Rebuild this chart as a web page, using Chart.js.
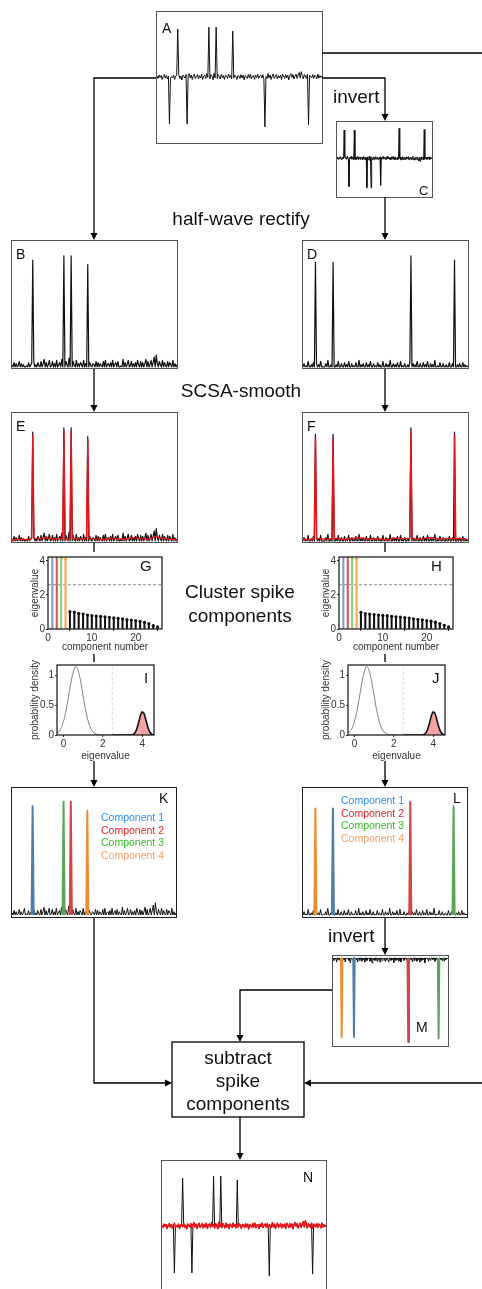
<!DOCTYPE html>
<html><head><meta charset="utf-8"><title>spike removal workflow</title>
<script src="https://cdn.jsdelivr.net/npm/chart.js@4.4.1/dist/chart.umd.min.js"></script>
<style>
html,body{margin:0;padding:0;background:#fff}
body{position:relative;width:482px;height:1289px;overflow:hidden;font-family:"Liberation Sans",Arial,Helvetica,sans-serif}
.box{position:absolute;box-sizing:border-box;border:1px solid #555;background:#fff}
.box canvas{position:absolute;left:0;top:0}
.ax{position:absolute}
#over{position:absolute;left:0;top:0;pointer-events:none}
</style></head><body>
<script>
const FONT='"Liberation Sans", Arial, Helvetica, sans-serif';
Chart.defaults.font.family=FONT;

// ── Recorded trace (A): background noise + spikes ──
const noise=[
 0.02,-0.03,0.04,-0.01,0.03,-0.05,0.01,0.05,-0.02,0.03,-0.04,0.02,0.06,-0.03,0.01,-0.02,0.04,-0.05,0.02,0.03,
 -0.01,0.05,-0.03,0.02,-0.06,0.04,0.01,-0.02,0.05,-0.04,0.03,0.07,-0.02,0.04,-0.05,0.02,0.06,-0.03,0.01,0.05,
 -0.04,0.03,-0.02,0.06,-0.05,0.02,0.04,-0.03,0.07,-0.01,0.03,-0.04,0.05,0.02,-0.06,0.08,-0.02,0.04,-0.03,0.05,
 0.01,-0.04,0.06,-0.02,0.03,-0.05,0.04,0.02,-0.03,0.06,-0.01,0.03,-0.04,0.05,-0.02,0.04,0.01,-0.05,0.03,0.02,
 -0.03,0.05,-0.02,0.04,-0.06,0.03,0.01,-0.03,0.05,-0.02,0.06,-0.04,0.02,0.03,-0.05,0.04,-0.01,0.06,-0.03,0.02,
 0.04,-0.02,0.05,-0.04,0.03,0.01,-0.03,0.07,-0.02,0.04,-0.05,0.02,0.06,-0.03,0.01,0.05,-0.04,0.03,-0.02,0.04,
 -0.05,0.06,0.02,-0.03,0.05,-0.02,0.04,-0.06,0.03,0.07,-0.01,0.05,-0.04,0.02,0.06,-0.03,0.04,0.09,-0.02,0.11,
 0.03,-0.04,0.05,0.02,-0.03,0.06,-0.05,0.04,0.01,-0.02,0.05,-0.03,0.04,0.02,-0.04,0.06,-0.02,0.03,-0.01,0.02];
const upIdx=[20,50,57,73], upAmp=[0.98,1.02,1.02,0.94];
const downIdx=[12,29,104,146], downAmp=[-0.96,-0.96,-1.02,-0.98];

// ── Spike components ──
const compNames=['Component 1','Component 2','Component 3','Component 4'];
const compText=['#2b8ef0','#ec2227','#35bb25','#f7a064'];
const compLine=['#4f7ea6','#d64343','#5ba55b','#ee8d2d'];
const compEig=['#7b9cc6','#d95450','#8fcf80','#f6a64c'];
const upComp=[0,2,1,3];     // component of each spike in K
const downComp=[3,0,1,2];   // component of each spike in L

// ── SCSA-smoothed baseline (red) ──
const smoothX=[0,8,16,26,34,40,46,54,62,68,80,88,96,108,116,124,132,138,146,154,159];
const smoothE=[0.01,0.015,0.01,0.02,0.03,0.015,0.02,0.01,0.02,0.015,0.02,0.01,0.025,0.015,0.03,0.02,0.015,0.04,0.02,0.015,0.01];
const smoothF=[0.015,0.01,0.02,0.015,0.025,0.01,0.02,0.03,0.015,0.02,0.01,0.025,0.02,0.015,0.02,0.03,0.015,0.02,0.01,0.02,0.01];
const smoothGain=0.97;

// ── Eigenvalues (G, H) ──
const eigG=[4.4,4.4,4.15,4.12,1.02,1.0,0.92,0.88,0.82,0.78,0.76,0.75,0.71,0.69,0.65,0.63,0.59,0.55,0.53,0.49,0.45,0.39,0.31,0.2,0.12];
const eigH=[4.4,4.4,4.15,4.12,0.98,0.9,0.88,0.85,0.82,0.8,0.78,0.75,0.72,0.7,0.67,0.64,0.6,0.57,0.54,0.5,0.46,0.4,0.32,0.22,0.12];
const eigThresh=2.6;
const eigTicksX=[0,10,20], eigTicksY=[0,2,4];

// ── Fitted densities (I, J) ──
const densNoiseX=[-0.3,-0.2,-0.1,0,0.1,0.2,0.3,0.4,0.5,0.6,0.7,0.8,0.9,1.0,1.1,1.2,1.3,1.4,1.5,1.6,1.7,1.8,1.9,2.0,2.5];
const densNoise=[0.033,0.069,0.13,0.226,0.36,0.536,0.73,0.92,1.06,1.14,1.117,1.01,0.85,0.65,0.46,0.30,0.18,0.10,0.05,0.025,0.011,0.004,0.001,0,0];
const densSpikeX=[2.5,3.4,3.5,3.6,3.7,3.8,3.9,4.0,4.1,4.2,4.3,4.4,4.5,4.6];
const densSpike=[0,0,0.006,0.026,0.08,0.185,0.312,0.388,0.353,0.237,0.116,0.042,0.011,0.003];
const densThresh=2.48;
const densTicksX=[0,2,4], densTicksY=[0,0.5,1];

// ── Derived traces ──
const N=noise.length;
const raw=noise.slice();
upIdx.forEach((k,j)=>raw[k]=upAmp[j]);
downIdx.forEach((k,j)=>raw[k]=downAmp[j]);
const inv=raw.map(v=>-v);
const rectA=raw.map(v=>Math.max(v,0));
const rectC=inv.map(v=>Math.max(v,0));
const bgB=noise.map(v=>Math.max(v,0));
const bgD=noise.map(v=>Math.max(-v,0));

const pts=a=>a.map((y,x)=>({x,y}));
const tri=(k,a)=>[{x:k-1,y:0},{x:k,y:a},{x:k+1,y:0}];
function smoothCurve(vals,idx,amp){
  const p=smoothX.map((x,i)=>({x,y:vals[i]}));
  idx.forEach((k,j)=>p.push({x:k-1.2,y:0.02},{x:k,y:Math.abs(amp[j])*smoothGain},{x:k+1.2,y:0.02}));
  return p.sort((a,b)=>a.x-b.x);
}
const line=(data,color,w,order)=>({data,borderColor:color,borderWidth:w,order,fill:false});

// ── Trace panels ──
function panel(b,yr,sets,border){
  const d=document.createElement('div');d.className='box';
  Object.assign(d.style,{left:b[0]+'px',top:b[1]+'px',width:b[2]+'px',height:b[3]+'px',borderColor:border||'#555'});
  const cv=document.createElement('canvas');cv.width=b[2]-2;cv.height=b[3]-2;
  d.appendChild(cv);document.body.appendChild(d);
  new Chart(cv,{type:'line',data:{datasets:sets},options:{responsive:false,animation:false,devicePixelRatio:1,events:[],
    layout:{padding:0},plugins:{legend:{display:false},tooltip:{enabled:false}},
    elements:{point:{radius:0},line:{tension:0,borderJoinStyle:'round'}},
    scales:{x:{type:'linear',display:false,min:0,max:N-1},y:{display:false,min:yr[0],max:yr[1]}}}});
}

panel([156,11,167,133],[-1.35,1.33],[line(pts(raw),'#111',1,0)]);
panel([336,121,97,77],[-1.34,1.24],[line(pts(inv),'#111',1,0)]);
panel([11,240,167,129],[-0.01,1.156],[line(pts(rectA),'#111',1.2,0)]);
panel([302,240,167,129],[-0.01,1.156],[line(pts(rectC),'#111',1.2,0)]);
panel([11,412,167,131],[-0.01,1.153],[line(smoothCurve(smoothE,upIdx,upAmp),'#e8141a',1.4,0),line(pts(rectA),'#111',1.2,1)]);
panel([302,412,167,131],[-0.01,1.153],[line(smoothCurve(smoothF,downIdx,downAmp),'#e8141a',1.4,0),line(pts(rectC),'#111',1.2,1)]);
panel([11,787,166,131],[-0.018,1.144],[...upIdx.map((k,j)=>line(tri(k,upAmp[j]),compLine[upComp[j]],2,0)),line(pts(bgB),'#111',1,1)],'#222');
panel([302,787,166,131],[-0.018,1.144],[...downIdx.map((k,j)=>line(tri(k,-downAmp[j]),compLine[downComp[j]],2,0)),line(pts(bgD),'#111',1,1)],'#222');
panel([332,955,117,92],[-1.07,0.024],[...downIdx.map((k,j)=>line(tri(k,downAmp[j]),compLine[downComp[j]],2,0)),line(pts(bgD.map(v=>-v)),'#111',1,1)]);
panel([161,1160,166,133],[-1.35,1.33],[line(pts(noise),'#e8141a',1.5,0),line(pts(raw),'#111',1,1)]);

// ── Small axes (G/H eigenvalues, I/J densities) ──
const framePlugin={id:'frame',afterDraw(c){const a=c.chartArea,x=c.ctx;x.save();x.strokeStyle='#111';x.lineWidth=1.2;
  x.strokeRect(a.left,a.top,a.width,a.height);x.restore();}};
function axisOpts(min,max,ticks,title,size,isY){
  return {type:'linear',min,max,offset:false,
    afterBuildTicks:s=>{s.ticks=ticks.map(value=>({value}))},
    afterFit:s=>{if(isY)s.width=size;else s.height=size;s.paddingTop=s.paddingBottom=s.paddingLeft=s.paddingRight=0},
    grid:{drawOnChartArea:false,drawTicks:true,tickLength:2,color:'#333'},
    border:{display:false},
    ticks:{font:{size:10},color:'#333',padding:1,maxRotation:0,autoSkip:false,callback:v=>String(v)},
    title:{display:true,text:title,font:{size:10},color:'#333',padding:isY?{top:1,bottom:0}:{top:0,bottom:2}}};
}
function axCanvas(l,t,w,h){const cv=document.createElement('canvas');cv.className='ax';cv.width=w;cv.height=h;
  cv.style.left=l+'px';cv.style.top=t+'px';document.body.appendChild(cv);return cv;}
const baseOpts={responsive:false,animation:false,devicePixelRatio:1,events:[],plugins:{legend:{display:false},tooltip:{enabled:false}}};

function eigenChart(l,t,vals){
  const colors=vals.map((v,i)=>i<4?compEig[i]:'#111');
  const d=vals.map((y,i)=>({x:i+1,y}));
  new Chart(axCanvas(l,t,138,102),{type:'bar',plugins:[framePlugin],data:{datasets:[
    {type:'scatter',data:d,pointRadius:1.6,pointBackgroundColor:colors,pointBorderWidth:0,order:0},
    {type:'bar',data:d,backgroundColor:colors,barThickness:1.4,order:1},
    {type:'line',data:[{x:0,y:eigThresh},{x:26,y:eigThresh}],borderColor:'#8a8a8a',borderWidth:1,borderDash:[3,2],pointRadius:0,order:2}
  ]},options:{...baseOpts,layout:{padding:{top:2,right:3,left:0,bottom:0}},
    scales:{x:axisOpts(0,26,eigTicksX,'component number',26,false),y:axisOpts(0,4.23,eigTicksY,'eigenvalue',20,true)}}});
}
function densChart(l,t){
  new Chart(axCanvas(l,t,129,116),{type:'line',plugins:[framePlugin],data:{datasets:[
    {data:densSpikeX.map((x,i)=>({x,y:densSpike[i]})),borderColor:'#111',borderWidth:1.6,fill:'origin',backgroundColor:'#f5a3a3',pointRadius:0,cubicInterpolationMode:'monotone',order:0},
    {data:densNoiseX.map((x,i)=>({x,y:densNoise[i]})),borderColor:'#777',borderWidth:0.9,pointRadius:0,cubicInterpolationMode:'monotone',order:1},
    {data:[{x:densThresh,y:0},{x:densThresh,y:1.17}],borderColor:'#cfcfcf',borderWidth:0.8,borderDash:[3,2],pointRadius:0,order:2}
  ]},options:{...baseOpts,layout:{padding:{top:17,right:3,left:0,bottom:0}},
    scales:{x:axisOpts(-0.33,4.6,densTicksX,'eigenvalue',29,false),y:axisOpts(0,1.17,densTicksY,'probability density',29,true)}}});
}
eigenChart(28,553,eigG);
eigenChart(319,553,eigH);
densChart(28,648);
densChart(319,648);

// ── Overlay: arrows, labels, captions ──
const sv=[];
const txt=(x,y,s,t,fill,anchor)=>sv.push(`<text x="${x}" y="${y}" font-size="${s}" fill="${fill||'#111'}" text-anchor="${anchor||'start'}">${t}</text>`);
const path=d=>sv.push(`<path d="${d}" fill="none" stroke="#000" stroke-width="1.3"/>`);
function head(x,y,dir){
  const L=7,W=3.5;let p;
  if(dir==='down')p=[[x,y],[x-W,y-L],[x+W,y-L]];
  else if(dir==='right')p=[[x,y],[x-L,y-W],[x-L,y+W]];
  else p=[[x,y],[x+L,y-W],[x+L,y+W]];
  sv.push(`<polygon points="${p.map(q=>q.join(',')).join(' ')}" fill="#000"/>`);
}
path('M156,78 H94 V236');head(94,240,'down');
path('M322,78 H385 V117');head(385,121,'down');
path('M322,53 H482');
path('M385,197 V236');head(385,240,'down');
path('M94,369 V408');head(94,412,'down');
path('M385,369 V408');head(385,412,'down');
path('M94,543 V552');path('M385,543 V552');
path('M94,654 V662');path('M385,654 V662');
path('M94,761 V783');head(94,787,'down');
path('M385,761 V783');head(385,787,'down');
path('M385,918 V951');head(385,955,'down');
path('M94,918 V1083 H168');head(172,1083,'right');
path('M332,990 H240 V1038');head(240,1042,'down');
path('M482,1083 H308');head(304,1083,'left');
path('M240,1117 V1156');head(240,1160,'down');
sv.push('<rect x="172" y="1042" width="132" height="75" fill="none" stroke="#000" stroke-width="1.3"/>');

txt(333,103,19,'invert');
txt(241,225,19,'half-wave rectify','#111','middle');
txt(241,397,19,'SCSA-smooth','#111','middle');
txt(240,598,19,'Cluster spike','#111','middle');
txt(240,622,19,'components','#111','middle');
txt(328,942,19,'invert');
txt(238,1064,19,'subtract','#111','middle');
txt(238,1087,19,'spike','#111','middle');
txt(238,1110,19,'components','#111','middle');

[['A',162,33],['B',16,259],['D',307,259],['E',16,431],['F',307,431],['K',159,803],['L',453,803],['N',303,1182],['M',416,1032],['C',419,195]]
  .forEach(([s,x,y])=>txt(x,y,s==='C'?13:14,s));
[['G',140,571],['H',431,571],['I',144,683],['J',432,683]].forEach(([s,x,y])=>txt(x,y,15,s));

compNames.forEach((n,i)=>{txt(101,821+i*12.5,10.5,n,compText[i]);txt(341,804+i*12.5,10.5,n,compText[i]);});

const svg=`<svg id="over" width="482" height="1289" xmlns="http://www.w3.org/2000/svg" font-family='${FONT}'>${sv.join('')}</svg>`;
document.body.insertAdjacentHTML('beforeend',svg);
</script>
</body></html>
